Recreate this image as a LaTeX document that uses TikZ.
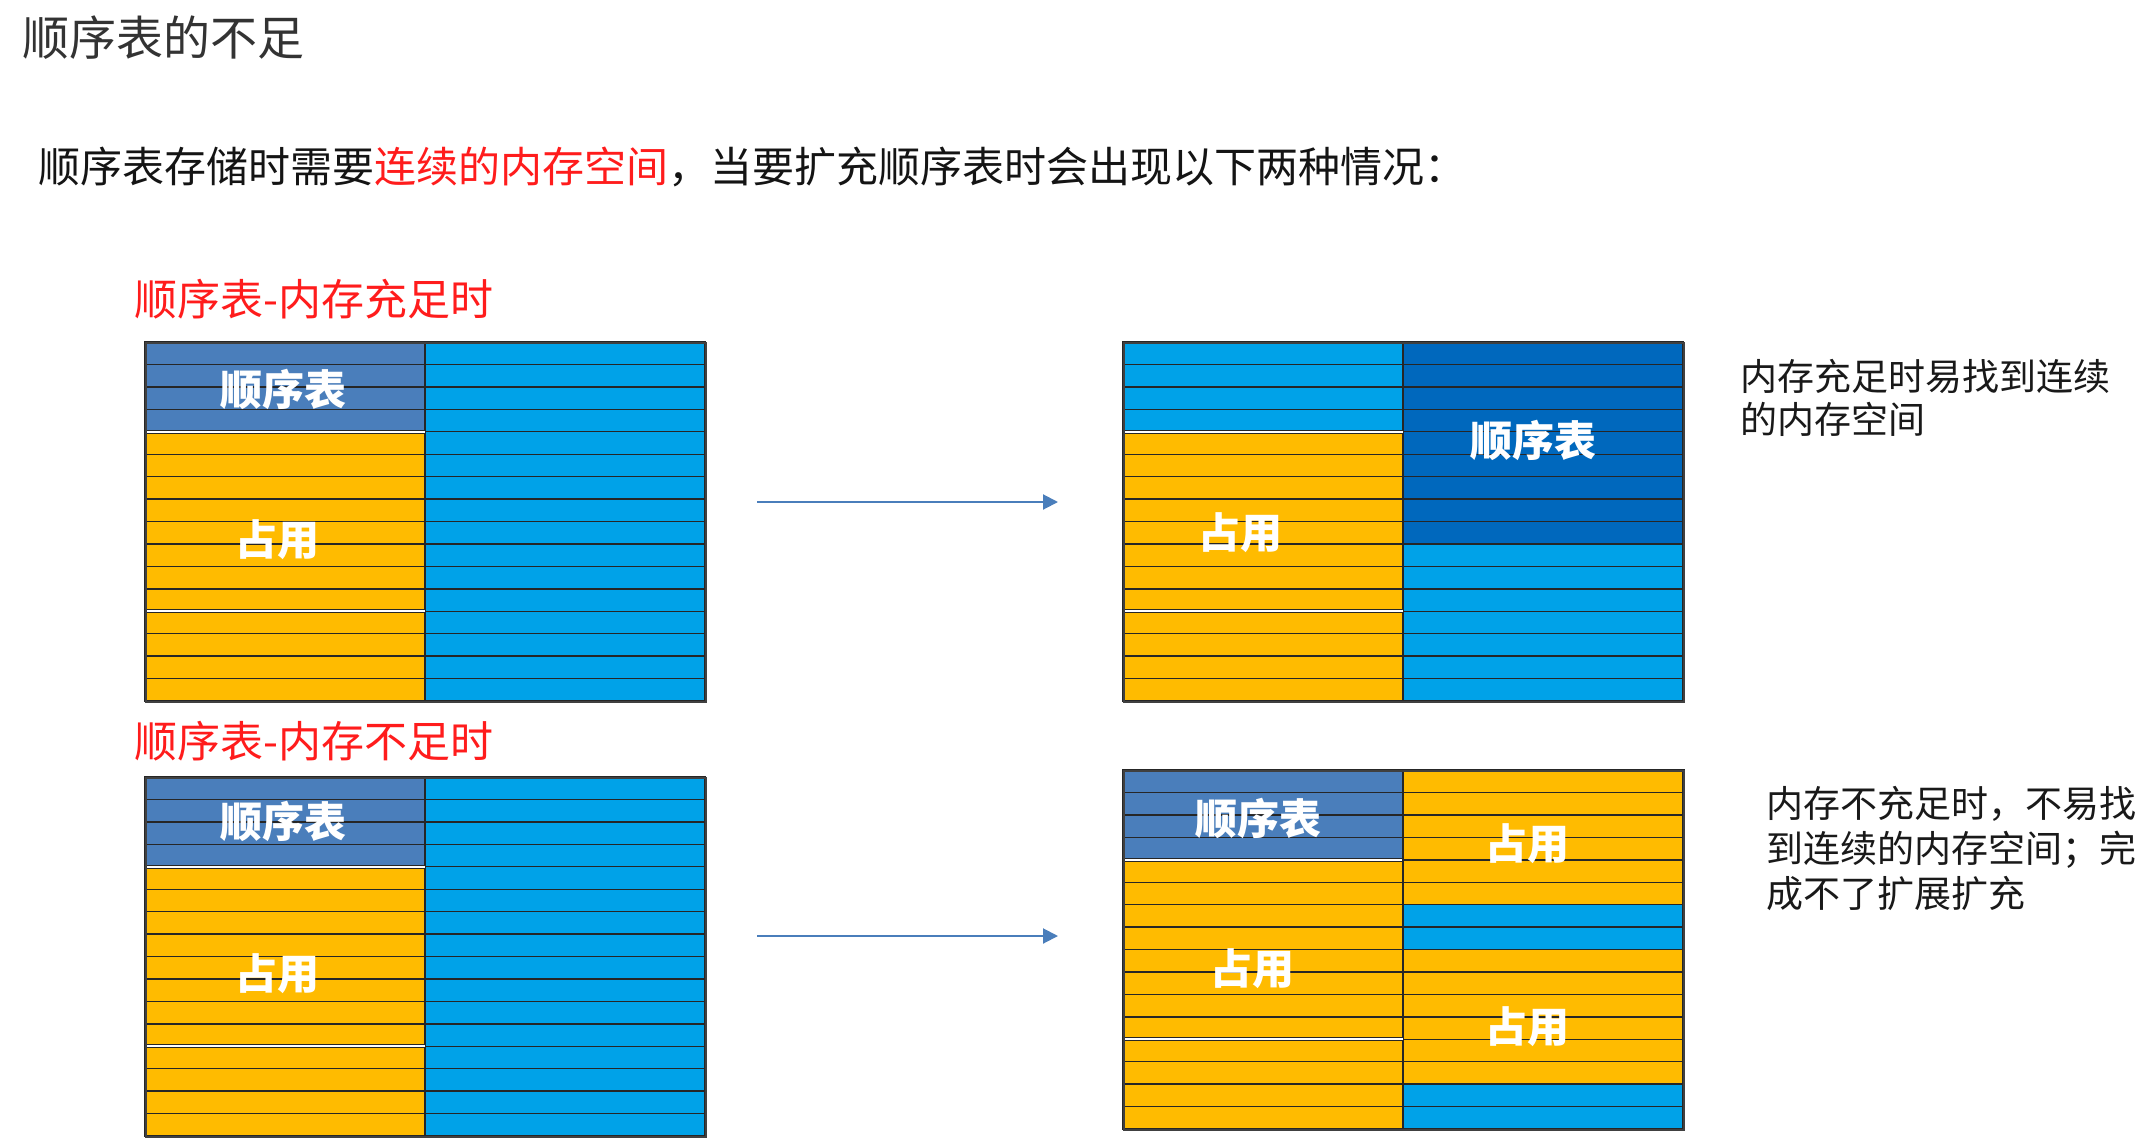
\documentclass[tikz,border=0pt]{standalone}
\usepackage{fontspec}
\setmainfont{Noto Sans CJK SC}
\usepackage{xcolor}
\usetikzlibrary{arrows.meta,positioning}

\definecolor{sqgray}{HTML}{4A7EBB}
\definecolor{sqdeep}{HTML}{0068BD}
\definecolor{freeblue}{HTML}{00A2E8}
\definecolor{usedgold}{HTML}{FFBB00}
\definecolor{flowblue}{HTML}{4A7EBB}
\definecolor{alertred}{HTML}{FF1C1C}

% rows of one memory column: x, top, first row, row count, colour
\newcommand{\memrun}[5]{%
  \foreach \i in {1,...,#4} {
    \draw[cell,fill=#5] (#1,{#2+(#3+\i-1)*22.44}) rectangle ++(280,22.44);
  }}
% white split between two blocks of a column: x, top, row
\newcommand{\memgap}[3]{%
  \draw[white,line width=2.2pt] (#1,{#2+#3*22.44}) -- ++(280,0);
  \draw[cell] (#1,{#2+#3*22.44-1.5}) -- ++(280,0)
              (#1,{#2+#3*22.44+1.5}) -- ++(280,0);}

\begin{document}
\begin{tikzpicture}[
    x=1pt,y=-1pt,
    cell/.style={draw=black!85,line width=1.4pt},
    grp/.style={draw=black!85,line width=2pt},
    frame/.style={draw=black!75,line width=1.6pt,inner sep=0pt,
      minimum width=560pt,minimum height=359pt,anchor=north west},
    tag/.style={text=white,inner sep=0pt,
      font=\fontsize{42}{48}\selectfont\bfseries},
    heading/.style={anchor=west,inner sep=0pt,text=alertred,
      font=\fontsize{43}{48}\selectfont},
    note/.style={anchor=west,align=left,inner sep=0pt,text=black!90,
      font=\fontsize{37}{43}\selectfont},
    flow/.style={-{Triangle[length=15pt,width=15pt]},draw=flowblue,
      line width=2pt}
]
\useasboundingbox[fill=white] (0,0) rectangle (2152,1143);

\node[anchor=west,inner sep=0pt,text=black!80,font=\fontsize{47}{52}\selectfont]
  (title) at (22,38) {顺序表的不足};
\node[anchor=west,inner sep=0pt,text=black!92,font=\fontsize{42}{48}\selectfont]
  (lead) at (38,167)
  {顺序表存储时需要\textcolor{alertred}{连续的内存空间}，当要扩充顺序表时会出现以下两种情况：};

\node[heading] (caseA) at (134,299) {顺序表-内存充足时};
\node[heading] (caseB) at (134,741) {顺序表-内存不足时};

\memrun{145}{342}{0}{4}{sqgray}
\memrun{145}{342}{4}{8}{usedgold}
\memrun{145}{342}{12}{4}{usedgold}
\memrun{425}{342}{0}{16}{freeblue}
\memgap{145}{342}{4}
\memgap{145}{342}{12}
\node[frame] (memA) at (145,342) {};

\memrun{1123}{342}{0}{4}{freeblue}
\memrun{1123}{342}{4}{8}{usedgold}
\memrun{1123}{342}{12}{4}{usedgold}
\memrun{1403}{342}{0}{9}{sqdeep}
\memrun{1403}{342}{9}{7}{freeblue}
\memgap{1123}{342}{4}
\memgap{1123}{342}{12}
\node[frame] (memB) at (1123,342) {};

\memrun{145}{777}{0}{4}{sqgray}
\memrun{145}{777}{4}{8}{usedgold}
\memrun{145}{777}{12}{4}{usedgold}
\memrun{425}{777}{0}{16}{freeblue}
\memgap{145}{777}{4}
\memgap{145}{777}{12}
\node[frame] (memC) at (145,777) {};

\memrun{1123}{770}{0}{4}{sqgray}
\memrun{1123}{770}{4}{8}{usedgold}
\memrun{1123}{770}{12}{4}{usedgold}
\memrun{1403}{770}{0}{6}{usedgold}
\memrun{1403}{770}{6}{2}{freeblue}
\memrun{1403}{770}{8}{6}{usedgold}
\memrun{1403}{770}{14}{2}{freeblue}
\memgap{1123}{770}{4}
\memgap{1123}{770}{12}
\draw[grp] (1403,770) rectangle ++(281,89.76);
\node[frame] (memD) at (1123,770) {};

\node[tag] (sqA) at (283,389) {顺序表};
\node[tag] (useA) at (277,540) {占用};
\node[tag] (sqB) at (1533,440) {顺序表};
\node[tag] (useB) at (1240,533) {占用};
\node[tag] (sqC) at (283,821) {顺序表};
\node[tag] (useC) at (277,974) {占用};
\node[tag] (sqD) at (1258,818) {顺序表};
\node[tag] (useD) at (1252,969) {占用};
\node[tag] (useDtop) at (1527,844) {占用};
\node[tag] (useDlow) at (1527,1027) {占用};

\coordinate (flowA0) at (757,502);
\coordinate (flowA1) at (1058,502);
\coordinate (flowB0) at (757,936);
\coordinate (flowB1) at (1058,936);
\draw[flow] (flowA0) -- (flowA1);
\draw[flow] (flowB0) -- (flowB1);

\node[note] (noteA) at (1740,398) {内存充足时易找到连续\\的内存空间};
\node[note,font=\fontsize{37}{45}\selectfont] (noteB) at (1766,848)
  {内存不充足时，不易找\\到连续的内存空间；完\\成不了扩展扩充};
\end{tikzpicture}
\end{document}
